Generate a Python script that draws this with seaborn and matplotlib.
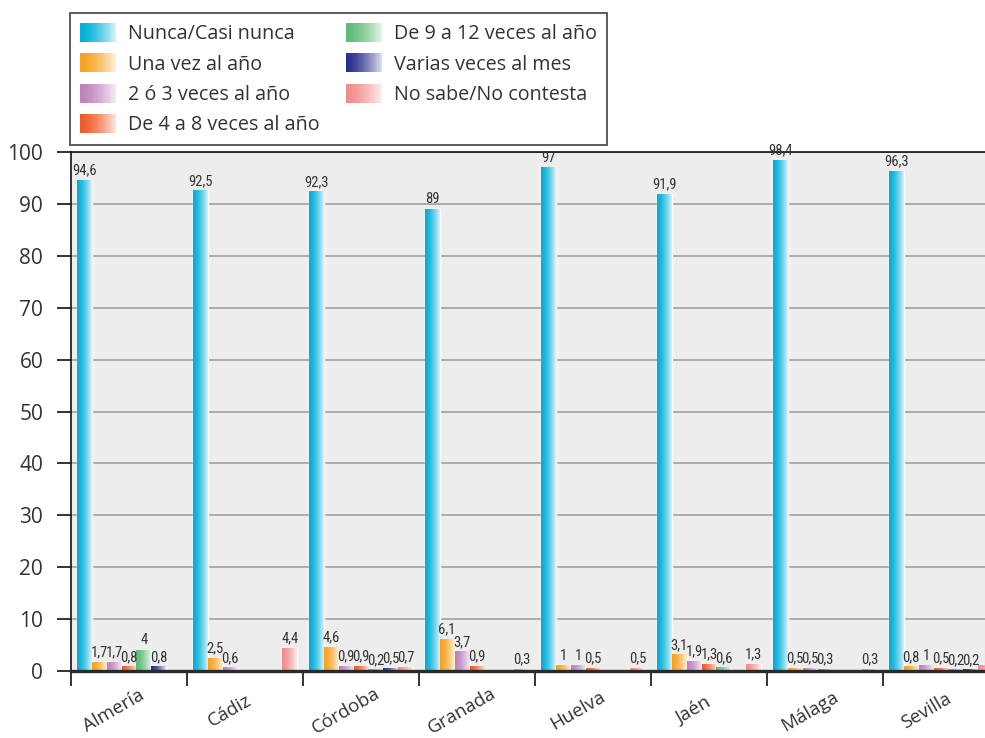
import numpy as np
import pandas as pd
import matplotlib
matplotlib.use("Agg")
import matplotlib.pyplot as plt
from matplotlib import font_manager
from matplotlib.colors import to_rgb
from matplotlib.legend_handler import HandlerBase
from matplotlib.patches import Rectangle
import seaborn as sns

# ---- data -------------------------------------------------------------
provincias = ["Almería", "Cádiz", "Córdoba", "Granada", "Huelva", "Jaén", "Málaga", "Sevilla"]
series = ["Nunca/Casi nunca", "Una vez al año", "2 ó 3 veces al año",
          "De 4 a 8 veces al año", "De 9 a 12 veces al año",
          "Varias veces al mes", "No sabe/No contesta"]
nan = np.nan
nunca = [94.6, 92.5, 92.3, 89, 97, 91.9, 98.4, 96.3]
una_vez = [1.7, 2.5, 4.6, 6.1, 1, 3.1, 0.5, 0.8]
dos_tres = [1.7, 0.6, 0.9, 3.7, 1, 1.9, 0.5, 1]
cuatro_ocho = [0.8, nan, 0.9, 0.9, 0.5, 1.3, 0.3, 0.5]
nueve_doce = [4, nan, 0.2, nan, nan, 0.6, nan, 0.2]
varias_mes = [0.8, nan, 0.5, nan, nan, nan, nan, 0.2]
ns_nc = [nan, 4.4, 0.7, 0.3, 0.5, 1.3, 0.3, 1]
yticks = list(range(0, 101, 10))

colores = ["#00AFD8", "#F7A11E", "#BD82BD", "#F05A28", "#5DBB77", "#2B2F8C", "#F28C8C"]

valores = [nunca, una_vez, dos_tres, cuatro_ocho, nueve_doce, varias_mes, ns_nc]
df = pd.DataFrame(
    [(p, s, v) for s, vals in zip(series, valores) for p, v in zip(provincias, vals)],
    columns=["provincia", "serie", "porcentaje"],
).dropna()

# ---- style ------------------------------------------------------------
sns.set_style("white")
plt.rcParams["font.family"] = ["Open Sans", "DejaVu Sans"]
TXT = "#333333"

names = {f.name for f in font_manager.fontManager.ttflist}
narrow = next((n for n in ["Liberation Sans Narrow", "Roboto Condensed",
                           "Open Sans Condensed", "DejaVu Sans Condensed"] if n in names), None)
label_font = dict(family=[narrow, "DejaVu Sans"]) if narrow else dict(family=["DejaVu Sans"], stretch="condensed")


def shade(color, n=64):
    """Horizontal gradient from the full colour to a pale tint."""
    c = np.array(to_rgb(color))
    light = c + (1 - c) * 0.84
    t = np.linspace(0, 1, n) ** 1.5
    return c[None, :] * (1 - t[:, None]) + light[None, :] * t[:, None]


class GradientHandler(HandlerBase):
    def create_artists(self, legend, orig_handle, xdescent, ydescent,
                       width, height, fontsize, trans):
        rgb = shade(orig_handle.get_facecolor(), n=30)
        n = len(rgb)
        return [Rectangle((-xdescent + width * k / n, -ydescent), width / n * 1.08, height,
                          facecolor=rgb[k], edgecolor="none", linewidth=0, transform=trans)
                for k in range(n)]


fig = plt.figure(figsize=(9.85, 7.38), dpi=100)
W, H = 985, 738
ax = fig.add_axes([71 / W, 1 - 671 / H, 928 / W, (671 - 152) / H])
ax.set_facecolor("#EDEDED")

sns.barplot(data=df, x="provincia", y="porcentaje", hue="serie",
            order=provincias, hue_order=series,
            palette=dict(zip(series, colores)), saturation=1,
            width=0.9, errorbar=None, legend=False, ax=ax)

ax.set_xlim(-0.5, len(provincias) - 0.5)
ax.set_ylim(0, 100)


def fmt(v):
    return f"{v:g}".replace(".", ",")


# gradient fill over each bar, then the value labels (only those inside the canvas)
for cont in ax.containers:
    labels = []
    for patch in cont.patches:
        x0, w, h = patch.get_x(), patch.get_width(), patch.get_height()
        ax.imshow(shade(patch.get_facecolor())[None, :, :],
                  extent=[x0, x0 + w, 0, h], aspect="auto",
                  interpolation="bilinear", zorder=2)
        xc_px = ax.transData.transform((x0 + w / 2, 0))[0]
        labels.append(fmt(h) if xc_px < W - 6 else "")
    ax.bar_label(cont, labels=labels, padding=2, color=TXT, fontsize=10.5, **label_font)

ax.set_xlim(-0.5, len(provincias) - 0.5)
ax.set_ylim(0, 100)
ax.set_yticks(yticks)
ax.set_yticklabels([str(t) for t in yticks])
ax.set_xlabel("")
ax.set_ylabel("")

ax.set_axisbelow(True)
ax.yaxis.grid(True, color="#A6A6A6", linewidth=1.3)
ax.xaxis.grid(False)

for side in ["left", "top"]:
    ax.spines[side].set_color("#111111")
    ax.spines[side].set_linewidth(1.2)
ax.spines["right"].set_visible(False)
ax.spines["bottom"].set_color("#2A2A2A")
ax.spines["bottom"].set_linewidth(2.4)
ax.spines["bottom"].set_zorder(3)

ax.tick_params(axis="y", direction="out", length=10, width=1.2, color="#111111",
               pad=10, labelsize=15, labelcolor=TXT, left=True)
# category separators as minor ticks, category names placed by hand
ax.set_xticks(np.arange(-0.5, len(provincias), 1), minor=True)
ax.tick_params(axis="x", which="minor", direction="out", length=11, width=1.2,
               color="#111111", bottom=True)
ax.tick_params(axis="x", which="major", length=0, labelbottom=False)
for i, p in enumerate(provincias):
    ax.annotate(p, xy=(i, 0), xycoords=("data", "axes fraction"),
                xytext=(-15, -40), textcoords="offset pixels",
                rotation=30, ha="center", va="center", rotation_mode="anchor",
                fontsize=13.5, color=TXT, annotation_clip=False)

handles = [Rectangle((0, 0), 1, 1, facecolor=c) for c in colores]
leg = fig.legend(handles, series, handler_map={Rectangle: GradientHandler()},
                 loc="upper left", bbox_to_anchor=(70 / W, 1 - 13 / H),
                 bbox_transform=fig.transFigure, borderaxespad=0,
                 ncol=2, fontsize=14.2, frameon=True, fancybox=False,
                 handlelength=1.83, handleheight=1.12, handletextpad=0.6,
                 labelspacing=0.46, columnspacing=1.35, borderpad=0.5)
leg.get_frame().set_edgecolor("#333333")
leg.get_frame().set_linewidth(1.4)
for t in leg.get_texts():
    t.set_color(TXT)

fig.savefig("out.png", dpi=100)
